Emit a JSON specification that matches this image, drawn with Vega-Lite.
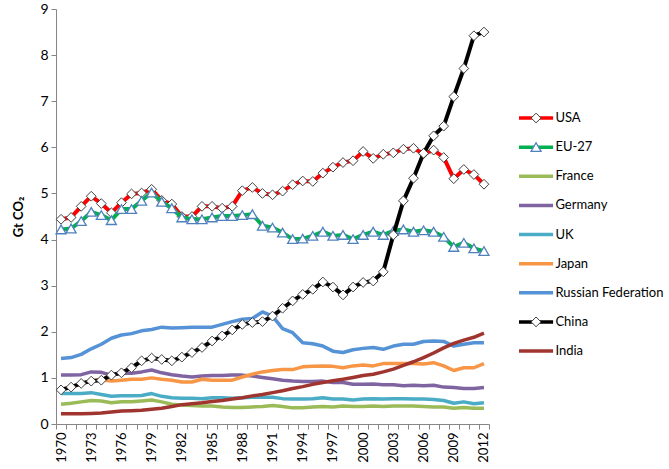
{
  "$schema": "https://vega.github.io/schema/vega-lite/v6.json",
  "background": "white",
  "padding": {"left": 12, "top": 2, "right": 0, "bottom": 0},
  "spacing": 16,
  "config": {
    "view": {"stroke": null},
    "font": "Lato",
    "axis": {"domainColor": "#868686", "tickColor": "#868686", "labelColor": "#000000", "labelFont": "Lato", "titleFont": "Lato", "grid": false, "tickSize": 5, "domainWidth": 1, "tickWidth": 1}
  },
  "datasets": {
    "emissions": [
      {"year": 1970, "USA": 4.44, "EU-27": 4.22, "France": 0.43, "Germany": 1.06, "UK": 0.66, "Japan": 0.76, "Russian Federation": 1.42, "China": 0.74, "India": 0.22},
      {"year": 1971, "USA": 4.48, "EU-27": 4.24, "France": 0.45, "Germany": 1.06, "UK": 0.66, "Japan": 0.80, "Russian Federation": 1.44, "China": 0.80, "India": 0.22},
      {"year": 1972, "USA": 4.72, "EU-27": 4.40, "France": 0.48, "Germany": 1.07, "UK": 0.66, "Japan": 0.87, "Russian Federation": 1.51, "China": 0.88, "India": 0.22},
      {"year": 1973, "USA": 4.94, "EU-27": 4.60, "France": 0.51, "Germany": 1.13, "UK": 0.68, "Japan": 0.95, "Russian Federation": 1.63, "China": 0.93, "India": 0.23},
      {"year": 1974, "USA": 4.78, "EU-27": 4.53, "France": 0.50, "Germany": 1.12, "UK": 0.64, "Japan": 0.96, "Russian Federation": 1.73, "China": 0.95, "India": 0.24},
      {"year": 1975, "USA": 4.58, "EU-27": 4.42, "France": 0.46, "Germany": 1.06, "UK": 0.60, "Japan": 0.93, "Russian Federation": 1.86, "China": 1.06, "India": 0.26},
      {"year": 1976, "USA": 4.80, "EU-27": 4.66, "France": 0.48, "Germany": 1.10, "UK": 0.61, "Japan": 0.95, "Russian Federation": 1.93, "China": 1.11, "India": 0.28},
      {"year": 1977, "USA": 4.99, "EU-27": 4.66, "France": 0.48, "Germany": 1.10, "UK": 0.61, "Japan": 0.97, "Russian Federation": 1.96, "China": 1.22, "India": 0.29},
      {"year": 1978, "USA": 5.01, "EU-27": 4.84, "France": 0.50, "Germany": 1.13, "UK": 0.62, "Japan": 0.97, "Russian Federation": 2.02, "China": 1.37, "India": 0.30},
      {"year": 1979, "USA": 5.09, "EU-27": 5.02, "France": 0.52, "Germany": 1.17, "UK": 0.66, "Japan": 1.00, "Russian Federation": 2.05, "China": 1.43, "India": 0.32},
      {"year": 1980, "USA": 4.85, "EU-27": 4.82, "France": 0.48, "Germany": 1.11, "UK": 0.60, "Japan": 0.97, "Russian Federation": 2.10, "China": 1.40, "India": 0.34},
      {"year": 1981, "USA": 4.77, "EU-27": 4.68, "France": 0.43, "Germany": 1.07, "UK": 0.57, "Japan": 0.95, "Russian Federation": 2.08, "China": 1.37, "India": 0.38},
      {"year": 1982, "USA": 4.50, "EU-27": 4.48, "France": 0.41, "Germany": 1.04, "UK": 0.56, "Japan": 0.91, "Russian Federation": 2.09, "China": 1.45, "India": 0.42},
      {"year": 1983, "USA": 4.50, "EU-27": 4.44, "France": 0.40, "Germany": 1.02, "UK": 0.56, "Japan": 0.91, "Russian Federation": 2.10, "China": 1.55, "India": 0.44},
      {"year": 1984, "USA": 4.72, "EU-27": 4.44, "France": 0.39, "Germany": 1.04, "UK": 0.55, "Japan": 0.97, "Russian Federation": 2.10, "China": 1.66, "India": 0.46},
      {"year": 1985, "USA": 4.72, "EU-27": 4.48, "France": 0.39, "Germany": 1.05, "UK": 0.57, "Japan": 0.95, "Russian Federation": 2.10, "China": 1.80, "India": 0.49},
      {"year": 1986, "USA": 4.68, "EU-27": 4.51, "France": 0.37, "Germany": 1.05, "UK": 0.57, "Japan": 0.95, "Russian Federation": 2.16, "China": 1.91, "India": 0.51},
      {"year": 1987, "USA": 4.72, "EU-27": 4.51, "France": 0.36, "Germany": 1.06, "UK": 0.56, "Japan": 0.95, "Russian Federation": 2.22, "China": 2.04, "India": 0.54},
      {"year": 1988, "USA": 5.06, "EU-27": 4.53, "France": 0.36, "Germany": 1.06, "UK": 0.57, "Japan": 1.02, "Russian Federation": 2.27, "China": 2.16, "India": 0.57},
      {"year": 1989, "USA": 5.13, "EU-27": 4.55, "France": 0.37, "Germany": 1.04, "UK": 0.58, "Japan": 1.08, "Russian Federation": 2.29, "China": 2.20, "India": 0.61},
      {"year": 1990, "USA": 5.00, "EU-27": 4.30, "France": 0.38, "Germany": 1.01, "UK": 0.58, "Japan": 1.13, "Russian Federation": 2.43, "China": 2.22, "India": 0.64},
      {"year": 1991, "USA": 4.97, "EU-27": 4.26, "France": 0.40, "Germany": 0.98, "UK": 0.58, "Japan": 1.16, "Russian Federation": 2.34, "China": 2.34, "India": 0.68},
      {"year": 1992, "USA": 5.05, "EU-27": 4.15, "France": 0.38, "Germany": 0.95, "UK": 0.55, "Japan": 1.18, "Russian Federation": 2.07, "China": 2.51, "India": 0.72},
      {"year": 1993, "USA": 5.19, "EU-27": 4.01, "France": 0.35, "Germany": 0.93, "UK": 0.54, "Japan": 1.18, "Russian Federation": 1.98, "China": 2.67, "India": 0.77},
      {"year": 1994, "USA": 5.27, "EU-27": 4.02, "France": 0.35, "Germany": 0.92, "UK": 0.54, "Japan": 1.24, "Russian Federation": 1.76, "China": 2.81, "India": 0.81},
      {"year": 1995, "USA": 5.26, "EU-27": 4.08, "France": 0.37, "Germany": 0.92, "UK": 0.55, "Japan": 1.25, "Russian Federation": 1.74, "China": 2.92, "India": 0.86},
      {"year": 1996, "USA": 5.44, "EU-27": 4.17, "France": 0.38, "Germany": 0.93, "UK": 0.57, "Japan": 1.26, "Russian Federation": 1.69, "China": 3.08, "India": 0.90},
      {"year": 1997, "USA": 5.57, "EU-27": 4.08, "France": 0.37, "Germany": 0.90, "UK": 0.54, "Japan": 1.25, "Russian Federation": 1.58, "China": 2.97, "India": 0.94},
      {"year": 1998, "USA": 5.67, "EU-27": 4.10, "France": 0.39, "Germany": 0.90, "UK": 0.54, "Japan": 1.22, "Russian Federation": 1.55, "China": 2.80, "India": 0.97},
      {"year": 1999, "USA": 5.71, "EU-27": 4.01, "France": 0.38, "Germany": 0.86, "UK": 0.52, "Japan": 1.26, "Russian Federation": 1.61, "China": 2.97, "India": 1.01},
      {"year": 2000, "USA": 5.91, "EU-27": 4.10, "France": 0.38, "Germany": 0.86, "UK": 0.54, "Japan": 1.28, "Russian Federation": 1.64, "China": 3.07, "India": 1.05},
      {"year": 2001, "USA": 5.76, "EU-27": 4.17, "France": 0.39, "Germany": 0.87, "UK": 0.55, "Japan": 1.26, "Russian Federation": 1.66, "China": 3.10, "India": 1.08},
      {"year": 2002, "USA": 5.85, "EU-27": 4.10, "France": 0.38, "Germany": 0.85, "UK": 0.54, "Japan": 1.31, "Russian Federation": 1.62, "China": 3.30, "India": 1.13},
      {"year": 2003, "USA": 5.88, "EU-27": 4.19, "France": 0.39, "Germany": 0.85, "UK": 0.55, "Japan": 1.31, "Russian Federation": 1.69, "China": 4.10, "India": 1.19},
      {"year": 2004, "USA": 5.96, "EU-27": 4.22, "France": 0.39, "Germany": 0.83, "UK": 0.55, "Japan": 1.31, "Russian Federation": 1.73, "China": 4.84, "India": 1.27},
      {"year": 2005, "USA": 5.98, "EU-27": 4.17, "France": 0.39, "Germany": 0.84, "UK": 0.54, "Japan": 1.31, "Russian Federation": 1.73, "China": 5.33, "India": 1.35},
      {"year": 2006, "USA": 5.86, "EU-27": 4.20, "France": 0.38, "Germany": 0.83, "UK": 0.54, "Japan": 1.30, "Russian Federation": 1.79, "China": 5.87, "India": 1.44},
      {"year": 2007, "USA": 5.94, "EU-27": 4.17, "France": 0.37, "Germany": 0.84, "UK": 0.53, "Japan": 1.33, "Russian Federation": 1.80, "China": 6.25, "India": 1.54},
      {"year": 2008, "USA": 5.78, "EU-27": 4.06, "France": 0.37, "Germany": 0.80, "UK": 0.51, "Japan": 1.26, "Russian Federation": 1.79, "China": 6.46, "India": 1.65},
      {"year": 2009, "USA": 5.32, "EU-27": 3.84, "France": 0.34, "Germany": 0.79, "UK": 0.45, "Japan": 1.16, "Russian Federation": 1.69, "China": 7.10, "India": 1.75},
      {"year": 2010, "USA": 5.52, "EU-27": 3.93, "France": 0.36, "Germany": 0.77, "UK": 0.48, "Japan": 1.22, "Russian Federation": 1.73, "China": 7.71, "India": 1.82},
      {"year": 2011, "USA": 5.41, "EU-27": 3.81, "France": 0.34, "Germany": 0.77, "UK": 0.44, "Japan": 1.22, "Russian Federation": 1.76, "China": 8.42, "India": 1.88},
      {"year": 2012, "USA": 5.20, "EU-27": 3.75, "France": 0.34, "Germany": 0.79, "UK": 0.46, "Japan": 1.31, "Russian Federation": 1.76, "China": 8.50, "India": 1.97}
    ],
    "legend": [
      {"series": "USA"}, {"series": "EU-27"}, {"series": "France"}, {"series": "Germany"}, {"series": "UK"},
      {"series": "Japan"}, {"series": "Russian Federation"}, {"series": "China"}, {"series": "India"}
    ]
  },
  "hconcat": [
    {
      "width": 433,
      "height": 415,
      "data": {"name": "emissions"},
      "transform": [{"fold": ["USA", "EU-27", "France", "Germany", "UK", "Japan", "Russian Federation", "China", "India"], "as": ["series", "value"]}],
      "encoding": {
        "x": {
          "field": "year", "type": "quantitative",
          "scale": {"domain": [1969.5, 2012.5], "nice": false, "zero": false},
          "axis": {
            "title": null,
            "values": [1969.5, 1970.5, 1971.5, 1972.5, 1973.5, 1974.5, 1975.5, 1976.5, 1977.5, 1978.5, 1979.5, 1980.5, 1981.5, 1982.5, 1983.5, 1984.5, 1985.5, 1986.5, 1987.5, 1988.5, 1989.5, 1990.5, 1991.5, 1992.5, 1993.5, 1994.5, 1995.5, 1996.5, 1997.5, 1998.5, 1999.5, 2000.5, 2001.5, 2002.5, 2003.5, 2004.5, 2005.5, 2006.5, 2007.5, 2008.5, 2009.5, 2010.5, 2011.5, 2012.5],
            "labelExpr": "((datum.value - 1969.5) % 3 === 0 && datum.value < 2012) ? toString(datum.value + 0.5) : ''",
            "labelOffset": 5,
            "labelAngle": -90,
            "labelFlush": false,
            "labelOverlap": false,
            "labelBound": false,
            "labelFontSize": 13,
            "labelPadding": 3
          }
        },
        "y": {
          "field": "value", "type": "quantitative",
          "scale": {"domain": [0, 9], "nice": false},
          "axis": {
            "title": "Gt CO₂",
            "titleFontWeight": "bold",
            "titleFontSize": 13,
            "titleColor": "#000000",
            "titlePadding": 14,
            "values": [0, 1, 2, 3, 4, 5, 6, 7, 8, 9],
            "labelFontSize": 14,
            "labelPadding": 3
          }
        },
        "color": {
          "field": "series", "type": "nominal",
          "scale": {
            "domain": ["USA", "EU-27", "France", "Germany", "UK", "Japan", "Russian Federation", "China", "India"],
            "range": ["#FF0000", "#00B050", "#9BBB59", "#8064A2", "#4BACC6", "#F79646", "#5592D6", "#000000", "#A03530"]
          },
          "legend": null
        }
      },
      "layer": [
        {"transform": [{"filter": "datum.series === 'USA'"}], "mark": {"type": "line", "strokeWidth": 4, "strokeJoin": "round"}},
        {"transform": [{"filter": "datum.series === 'USA'"}], "mark": {"type": "point", "shape": "diamond", "size": 95, "filled": true, "opacity": 1, "strokeWidth": 1},
         "encoding": {"color": {"value": "#FFFFFF"}, "stroke": {"value": "#404040"}}},
        {"transform": [{"filter": "datum.series === 'EU-27'"}], "mark": {"type": "line", "strokeWidth": 4, "strokeJoin": "round"}},
        {"transform": [{"filter": "datum.series === 'EU-27'"}], "mark": {"type": "point", "shape": "triangle-up", "size": 100, "filled": true, "opacity": 1, "strokeWidth": 1.3},
         "encoding": {"color": {"value": "#FFFFFF"}, "stroke": {"value": "#4F81BD"}}},
        {"transform": [{"filter": "datum.series === 'France' || datum.series === 'Germany' || datum.series === 'UK' || datum.series === 'Japan' || datum.series === 'Russian Federation'"}], "mark": {"type": "line", "strokeWidth": 3.5, "strokeJoin": "round"}},
        {"transform": [{"filter": "datum.series === 'China'"}], "mark": {"type": "line", "strokeWidth": 4, "strokeJoin": "round"}},
        {"transform": [{"filter": "datum.series === 'China'"}], "mark": {"type": "point", "shape": "diamond", "size": 95, "filled": true, "opacity": 1, "strokeWidth": 1},
         "encoding": {"color": {"value": "#FFFFFF"}, "stroke": {"value": "#404040"}}},
        {"transform": [{"filter": "datum.series === 'India'"}], "mark": {"type": "line", "strokeWidth": 3.5, "strokeJoin": "round"}}
      ]
    },
    {
      "width": 155,
      "height": 415,
      "data": {"name": "legend"},
      "encoding": {
        "y": {
          "field": "series", "type": "nominal",
          "scale": {"type": "point", "domain": ["USA", "EU-27", "France", "Germany", "UK", "Japan", "Russian Federation", "China", "India"], "range": [109, 342], "padding": 0},
          "axis": null
        }
      },
      "layer": [
        {
          "mark": {"type": "rule", "strokeWidth": 3.5},
          "encoding": {
            "x": {"datum": 0, "type": "quantitative", "scale": {"domain": [0, 1], "nice": false, "zero": false}, "axis": null},
            "x2": {"datum": 0.22},
            "color": {
              "field": "series", "type": "nominal",
              "scale": {
                "domain": ["USA", "EU-27", "France", "Germany", "UK", "Japan", "Russian Federation", "China", "India"],
                "range": ["#FF0000", "#00B050", "#9BBB59", "#8064A2", "#4BACC6", "#F79646", "#5592D6", "#000000", "#A03530"]
              },
              "legend": null
            }
          }
        },
        {
          "transform": [{"filter": "datum.series === 'USA' || datum.series === 'China'"}],
          "mark": {"type": "point", "shape": "diamond", "size": 95, "filled": true, "opacity": 1, "strokeWidth": 1, "fill": "#FFFFFF", "stroke": "#404040"},
          "encoding": {"x": {"datum": 0.11, "type": "quantitative"}}
        },
        {
          "transform": [{"filter": "datum.series === 'EU-27'"}],
          "mark": {"type": "point", "shape": "triangle-up", "size": 100, "filled": true, "opacity": 1, "strokeWidth": 1.3, "fill": "#FFFFFF", "stroke": "#4F81BD"},
          "encoding": {"x": {"datum": 0.11, "type": "quantitative"}}
        },
        {
          "mark": {"type": "text", "align": "left", "baseline": "middle", "fontSize": 13, "font": "Lato", "color": "#000000"},
          "encoding": {"x": {"datum": 0.235, "type": "quantitative"}, "text": {"field": "series"}}
        }
      ]
    }
  ]
}
